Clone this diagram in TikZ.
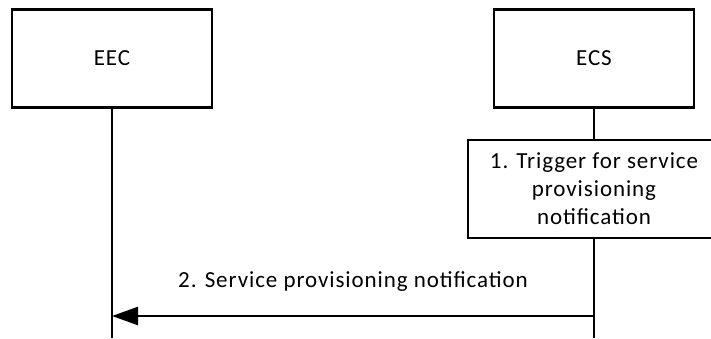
\documentclass[tikz,border=0pt]{standalone}
\usepackage{fontspec}
\setmainfont{Carlito}[LetterSpace=4]
\usetikzlibrary{arrows.meta}

\begin{document}
\begin{tikzpicture}[x=1pt,y=-1pt,>={Triangle[length=26pt,width=18pt]},
              line width=2.4pt,
              entity node/.style={rectangle,draw,minimum width=200pt,minimum height=98pt,inner sep=0pt},
              step node/.style={rectangle,draw,minimum width=252pt,minimum height=98pt,align=center,inner sep=0pt}]

            \useasboundingbox (0,0) rectangle (711,338);
            \clip (0,0) rectangle (711,338);
            \fontsize{23pt}{28pt}\selectfont

            \node[entity node] (EEC) at (112,58.5) {EEC};
            \node[entity node] (ECS) at (594,58.5) {ECS};
            \node[step node] (T) at (594,189) {1. Trigger for service\\provisioning\\notification};

            \coordinate (EECend) at (112,338);
            \coordinate (ECSend) at (594,338);
            \coordinate (Mfrom) at (594,316);
            \coordinate (Mto) at (112,316);

            \path[every node/.style={}]
            (EEC) edge (EECend)
            (ECS) edge (T)
            (T) edge (ECSend);

            \draw[->] (Mfrom) -- node[above=16pt] {2. Service provisioning notification} (Mto);

          \end{tikzpicture}
\end{document}
